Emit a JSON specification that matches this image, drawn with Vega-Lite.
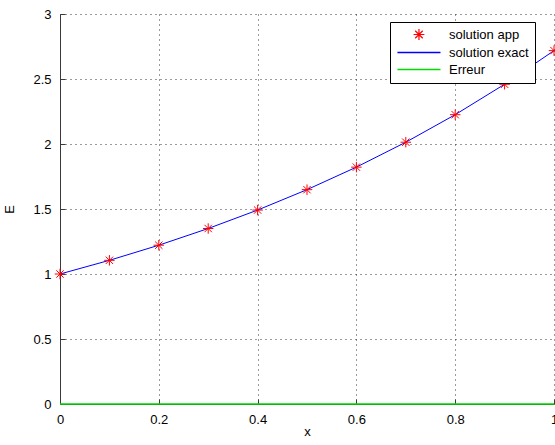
{
  "$schema": "https://vega.github.io/schema/vega-lite/v6.json",
  "width": 494,
  "height": 390,
  "autosize": {"type": "none"},
  "padding": {"left": 60, "top": 14, "right": 1, "bottom": 41},
  "background": "white",
  "config": {
    "view": {"stroke": null},
    "font": "Liberation Sans",
    "axis": {
      "labelFont": "Liberation Sans",
      "titleFont": "Liberation Sans",
      "labelFontSize": 13,
      "titleFontSize": 13,
      "titleFontWeight": "normal",
      "labelColor": "black",
      "titleColor": "black",
      "domainColor": "#3a3a3a",
      "tickColor": "#3a3a3a",
      "tickSize": -5,
      "gridColor": "#222222",
      "gridDash": [1, 4],
      "gridOpacity": 0.9,
      "labelPadding": 14
    }
  },
  "data": {
    "values": [
      {"x": 0.0, "y": 1.0000, "series": "solution app"},
      {"x": 0.1, "y": 1.1052, "series": "solution app"},
      {"x": 0.2, "y": 1.2214, "series": "solution app"},
      {"x": 0.3, "y": 1.3499, "series": "solution app"},
      {"x": 0.4, "y": 1.4918, "series": "solution app"},
      {"x": 0.5, "y": 1.6487, "series": "solution app"},
      {"x": 0.6, "y": 1.8221, "series": "solution app"},
      {"x": 0.7, "y": 2.0138, "series": "solution app"},
      {"x": 0.8, "y": 2.2255, "series": "solution app"},
      {"x": 0.9, "y": 2.4596, "series": "solution app"},
      {"x": 1.0, "y": 2.7183, "series": "solution app"},
      {"x": 0.0, "y": 1.0000, "series": "solution exact"},
      {"x": 0.1, "y": 1.1052, "series": "solution exact"},
      {"x": 0.2, "y": 1.2214, "series": "solution exact"},
      {"x": 0.3, "y": 1.3499, "series": "solution exact"},
      {"x": 0.4, "y": 1.4918, "series": "solution exact"},
      {"x": 0.5, "y": 1.6487, "series": "solution exact"},
      {"x": 0.6, "y": 1.8221, "series": "solution exact"},
      {"x": 0.7, "y": 2.0138, "series": "solution exact"},
      {"x": 0.8, "y": 2.2255, "series": "solution exact"},
      {"x": 0.9, "y": 2.4596, "series": "solution exact"},
      {"x": 1.0, "y": 2.7183, "series": "solution exact"},
      {"x": 0.0, "y": 0.0, "series": "Erreur"},
      {"x": 0.1, "y": 0.0001, "series": "Erreur"},
      {"x": 0.2, "y": 0.0001, "series": "Erreur"},
      {"x": 0.3, "y": 0.0002, "series": "Erreur"},
      {"x": 0.4, "y": 0.0002, "series": "Erreur"},
      {"x": 0.5, "y": 0.0003, "series": "Erreur"},
      {"x": 0.6, "y": 0.0003, "series": "Erreur"},
      {"x": 0.7, "y": 0.0004, "series": "Erreur"},
      {"x": 0.8, "y": 0.0004, "series": "Erreur"},
      {"x": 0.9, "y": 0.0005, "series": "Erreur"},
      {"x": 1.0, "y": 0.0005, "series": "Erreur"}
    ]
  },
  "encoding": {
    "x": {
      "field": "x", "type": "quantitative",
      "scale": {"domain": [0, 1], "nice": false, "zero": false},
      "axis": {"values": [0, 0.2, 0.4, 0.6, 0.8, 1], "labelExpr": "format(datum.value, '~g')", "title": "x", "titlePadding": -1, "labelFlush": false}
    },
    "y": {
      "field": "y", "type": "quantitative",
      "scale": {"domain": [0, 3], "nice": false},
      "axis": {"values": [0, 0.5, 1, 1.5, 2, 2.5, 3], "labelExpr": "format(datum.value, '~g')", "title": "E", "titlePadding": 16, "labelFlush": false}
    },
    "color": {
      "field": "series", "type": "nominal",
      "scale": {"domain": ["solution app", "solution exact", "Erreur"], "range": ["#ff0000", "#0000ff", "#00dd00"]},
      "legend": {
        "title": null,
        "orient": "none",
        "legendX": 330,
        "legendY": 8,
        "fillColor": "white",
        "strokeColor": "black",
        "padding": 6,
        "labelFont": "Liberation Sans",
        "labelFontSize": 13,
        "labelColor": "black",
        "labelOffset": 40,
        "labelExpr": "datum.label + '\u00a0\u00a0\u00a0\u00a0\u00a0\u00a0\u00a0'",
        "rowPadding": 3,
        "symbolSize": 324,
        "symbolStrokeWidth": 1,
        "encode": {
          "symbols": {
            "update": {
              "shape": {"signal": "datum.value === 'solution app' ? 'M1.23,0L2.43,0M1.83,-0.6L1.83,0.6M1.41,-0.42L2.25,0.42M1.41,0.42L2.25,-0.42' : 'M-0.56,0L4.22,0'"},
              "size": {"value": 324},
              "fill": {"value": "transparent"},
              "stroke": {"signal": "datum.value === 'solution app' ? '#ff0000' : (datum.value === 'solution exact' ? '#0000ff' : '#00dd00')"},
              "strokeWidth": {"signal": "datum.value === 'solution app' ? 1.2 : 1.5"}
            }
          }
        }
      }
    }
  },
  "layer": [
    {
      "transform": [{"filter": "datum.series === 'Erreur'"}],
      "mark": {"type": "line", "strokeWidth": 1.5}
    },
    {
      "transform": [{"filter": "datum.series === 'solution exact'"}],
      "mark": {"type": "line", "strokeWidth": 1}
    },
    {
      "transform": [{"filter": "datum.series === 'solution app'"}],
      "mark": {"type": "point", "shape": "M-1,0L1,0M0,-1L0,1M-0.7,-0.7L0.7,0.7M-0.7,0.7L0.7,-0.7", "filled": false, "size": 110, "strokeWidth": 1, "opacity": 1}
    }
  ]
}
